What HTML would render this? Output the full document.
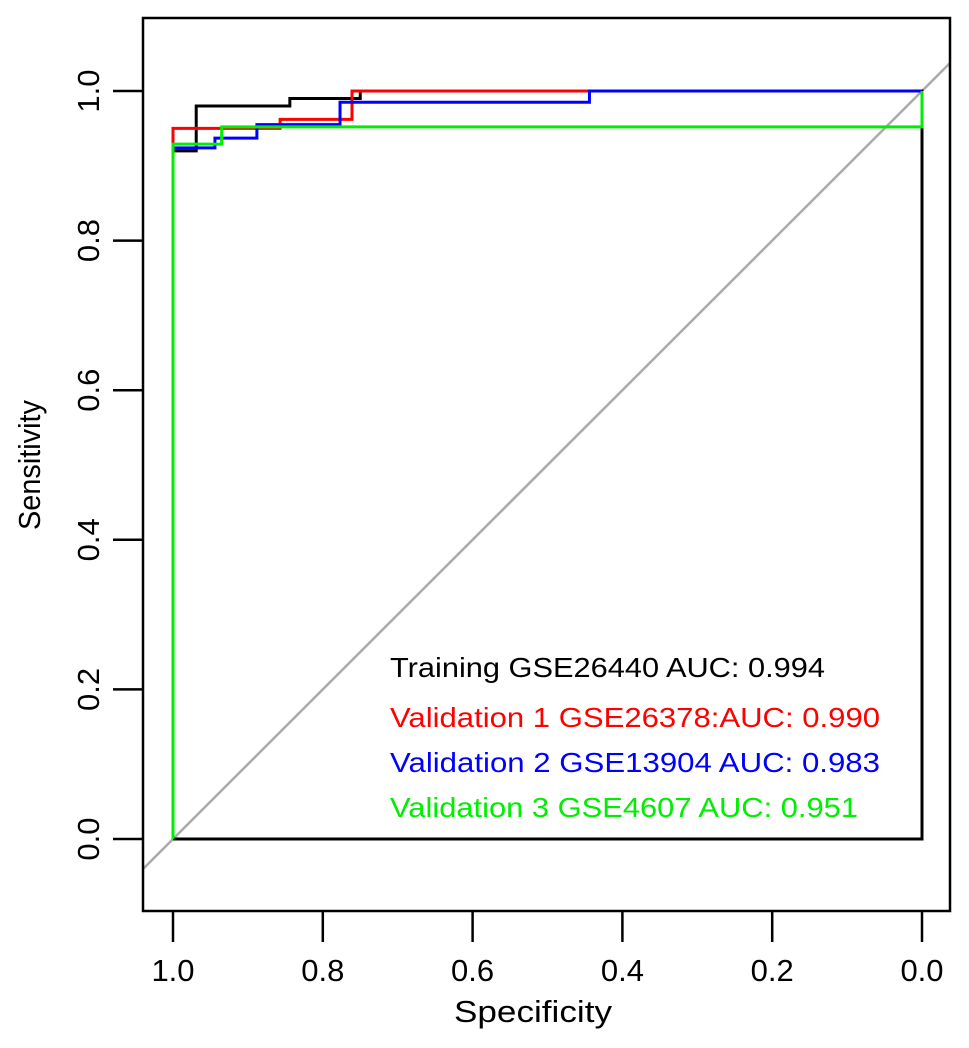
<!DOCTYPE html>
<html><head><meta charset="utf-8"><style>
html,body{margin:0;padding:0;background:#fff;}
text{font-family:"Liberation Sans",Arial,sans-serif;}
</style></head><body>
<svg id="chart" width="969" height="1043" xmlns="http://www.w3.org/2000/svg">
<defs><clipPath id="plotclip"><rect x="143" y="18" width="807" height="893"/></clipPath></defs>
<g id="curves" clip-path="url(#plotclip)"></g>
<rect x="143" y="18" width="807" height="893" fill="none" stroke="#000" stroke-width="2.5"/>
<g id="axes"></g>
<text x="40" y="465" font-size="31" text-anchor="middle" textLength="130" lengthAdjust="spacingAndGlyphs" transform="rotate(-90 40 465)">Sensitivity</text>
<text x="533" y="1022" font-size="31" text-anchor="middle" textLength="158" lengthAdjust="spacingAndGlyphs">Specificity</text>
<g>
<text x="390" y="677" font-size="28" fill="#000" textLength="435" lengthAdjust="spacingAndGlyphs">Training GSE26440 AUC: 0.994</text>
<text x="390" y="727" font-size="28" fill="#ff0000" textLength="490" lengthAdjust="spacingAndGlyphs">Validation 1 GSE26378:AUC: 0.990</text>
<text x="390" y="772" font-size="28" fill="#0000ff" textLength="490" lengthAdjust="spacingAndGlyphs">Validation 2 GSE13904 AUC: 0.983</text>
<text x="390" y="817" font-size="28" fill="#00ee00" textLength="468" lengthAdjust="spacingAndGlyphs">Validation 3 GSE4607 AUC: 0.951</text>
</g>
</svg>
<script>
const xTicks = [1.0, 0.8, 0.6, 0.4, 0.2, 0.0];
const xTickLabels = ["1.0", "0.8", "0.6", "0.4", "0.2", "0.0"];
const yTicks = [0.0, 0.2, 0.4, 0.6, 0.8, 1.0];
const yTickLabels = ["0.0", "0.2", "0.4", "0.6", "0.8", "1.0"];
const trainSpec = [1, 1, 0.969, 0.969, 0.844, 0.844, 0.75, 0.75, 0, 0, 1];
const trainSens = [0, 0.92, 0.92, 0.98, 0.98, 0.99, 0.99, 1, 1, 0, 0];
const val1Spec = [1, 1, 0.935, 0.935, 0.857, 0.857, 0.761, 0.761, 0];
const val1Sens = [0, 0.95, 0.95, 0.95, 0.95, 0.962, 0.962, 1, 1];
const val2Spec = [1, 1, 0.944, 0.944, 0.888, 0.888, 0.777, 0.777, 0.444, 0.444, 0];
const val2Sens = [0, 0.924, 0.924, 0.937, 0.937, 0.955, 0.955, 0.985, 0.985, 1, 1];
const val3Spec = [1, 1, 0.935, 0.935, 0, 0];
const val3Sens = [0, 0.929, 0.929, 0.952, 0.952, 1];

const NS = "http://www.w3.org/2000/svg";
function sx(v){ return 173 + (1 - v) * 749; }
function sy(v){ return 839 - v * 748; }
const curves = document.getElementById('curves');
const axes = document.getElementById('axes');

const diag = document.createElementNS(NS, 'line');


diag.setAttribute('x1', sx(1.1)); diag.setAttribute('y1', sy(-0.1));
diag.setAttribute('x2', sx(-0.1)); diag.setAttribute('y2', sy(1.1));
diag.setAttribute('stroke', '#aaaaaa'); diag.setAttribute('stroke-width', '2.5');
curves.appendChild(diag);

function drawCurve(spec, sens, color, name){
  const p = document.createElementNS(NS, 'polyline');
  
  
  p.setAttribute('points', spec.map((s, i) => sx(s) + ',' + sy(sens[i])).join(' '));
  p.setAttribute('fill', 'none'); p.setAttribute('stroke', color); p.setAttribute('stroke-width', '3');
  curves.appendChild(p);
}
drawCurve(trainSpec, trainSens, '#000000', 'curve-training');
drawCurve(val1Spec, val1Sens, '#ff0000', 'curve-validation-1');
drawCurve(val2Spec, val2Sens, '#0000ff', 'curve-validation-2');
drawCurve(val3Spec, val3Sens, '#00ee00', 'curve-validation-3');

xTicks.forEach((v, i) => {
  const l = document.createElementNS(NS, 'line');
  
  
  l.setAttribute('x1', sx(v)); l.setAttribute('x2', sx(v));
  l.setAttribute('y1', 911); l.setAttribute('y2', 942);
  l.setAttribute('stroke', '#000'); l.setAttribute('stroke-width', '2.5');
  axes.appendChild(l);
  const t = document.createElementNS(NS, 'text');
  
  
  t.setAttribute('x', sx(v)); t.setAttribute('y', 981);
  t.setAttribute('font-size', '31'); t.setAttribute('text-anchor', 'middle');
  t.textContent = xTickLabels[i];
  axes.appendChild(t);
});
yTicks.forEach((v, i) => {
  const l = document.createElementNS(NS, 'line');
  
  
  l.setAttribute('x1', 113); l.setAttribute('x2', 143);
  l.setAttribute('y1', sy(v)); l.setAttribute('y2', sy(v));
  l.setAttribute('stroke', '#000'); l.setAttribute('stroke-width', '2.5');
  axes.appendChild(l);
  const t = document.createElementNS(NS, 'text');
  
  
  t.setAttribute('x', 99); t.setAttribute('y', sy(v));
  t.setAttribute('font-size', '31'); t.setAttribute('text-anchor', 'middle');
  t.setAttribute('transform', 'rotate(-90 99 ' + sy(v) + ')');
  t.textContent = yTickLabels[i];
  axes.appendChild(t);
});
</script>
</body></html>
